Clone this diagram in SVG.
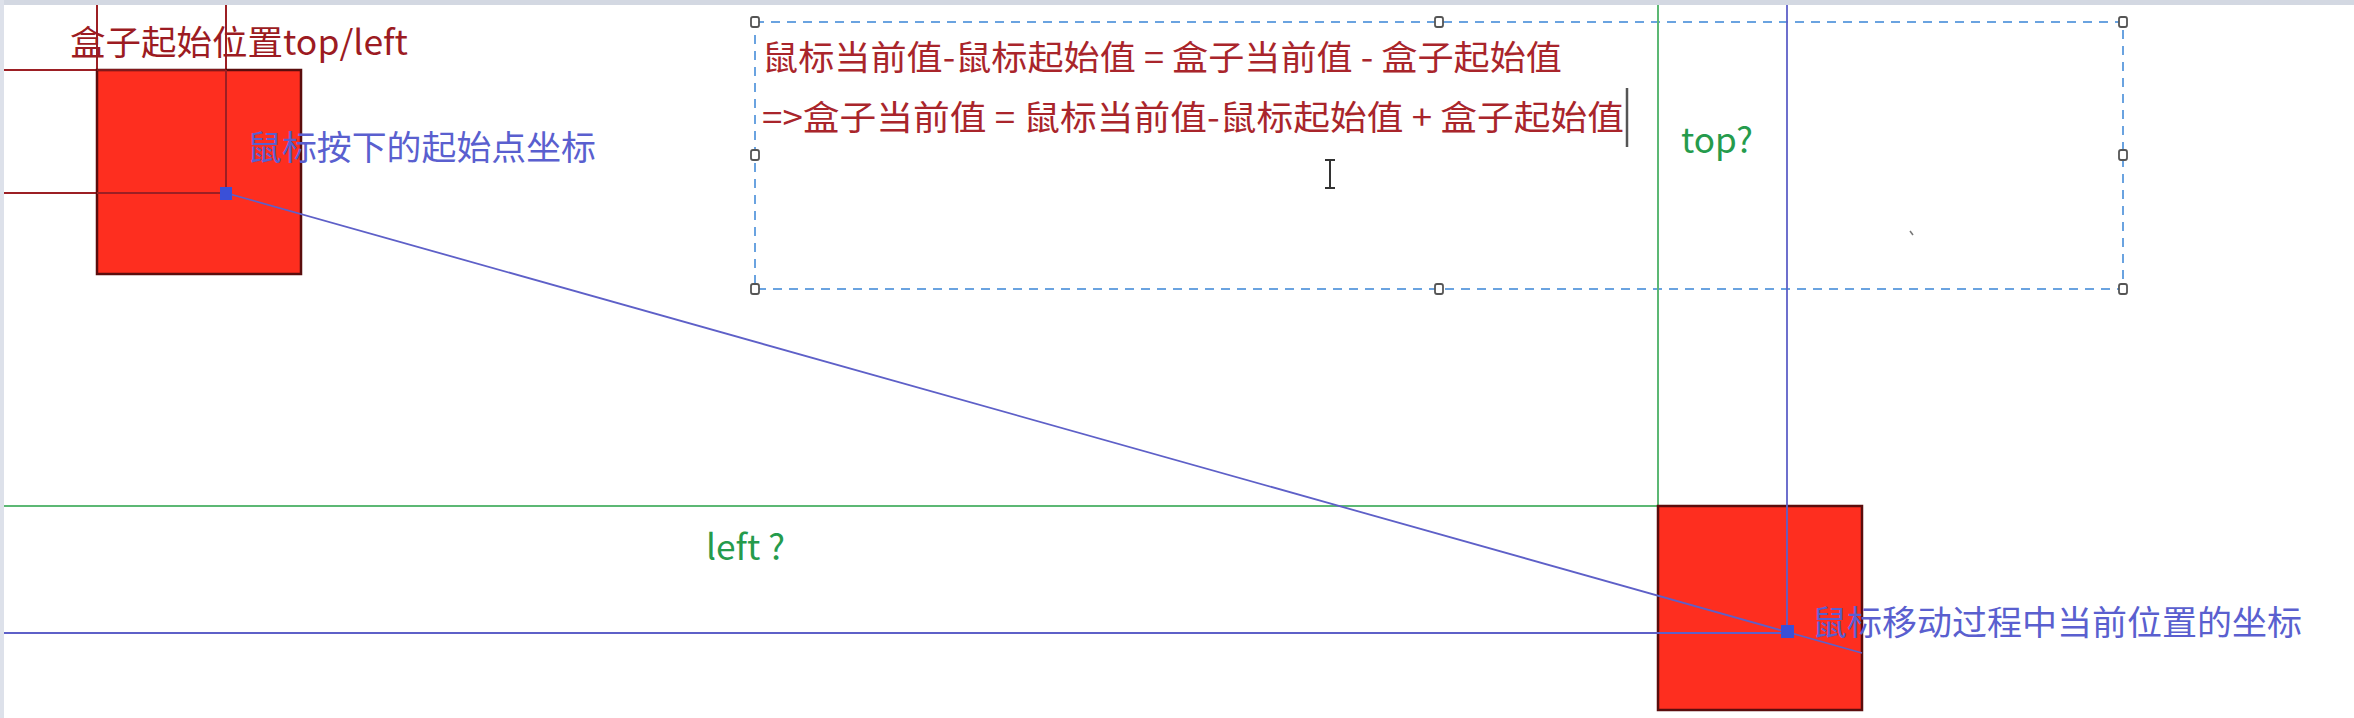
<svg xmlns="http://www.w3.org/2000/svg" width="2354" height="718" viewBox="0 0 2354 718">
<style>
.box{fill:#fe2e1f;stroke:#5a0d0d;stroke-width:2.5}
.red{stroke:#9c1f24;stroke-width:2;fill:none}
.blue{stroke:#5e60c8;stroke-width:1.8;fill:none}
.green{stroke:#5cb874;stroke-width:2;fill:none}
.pt{fill:#3a50d8}
.t{font-family:"Noto Sans CJK SC","Liberation Sans",sans-serif}
.lblred{fill:#9c1b22;font-size:34px}
.lblblue{fill:#5a5fcf;font-size:34px}
.eq{fill:#a9252b;font-size:34px}
.gr{fill:#259b4c;font-size:35px}
.sel{fill:none;stroke:#6aa3e0;stroke-width:2;stroke-dasharray:9 7}
.h{fill:#fff;stroke:#555;stroke-width:1.8}
</style>
<rect width="2354" height="718" fill="#ffffff"/>
<rect x="0" y="0" width="2354" height="5" fill="#d3d8e2"/>
<rect x="0" y="0" width="4" height="718" fill="#dde1ea"/>

<g id="formula-box">
  <rect class="sel" x="755" y="22" width="1368" height="267"/>
  <rect class="h" x="751" y="17" width="8" height="10" rx="2"/>
  <rect class="h" x="1435" y="17" width="8" height="10" rx="2"/>
  <rect class="h" x="2119" y="17" width="8" height="10" rx="2"/>
  <rect class="h" x="751" y="150" width="8" height="10" rx="2"/>
  <rect class="h" x="2119" y="150" width="8" height="10" rx="2"/>
  <rect class="h" x="751" y="284" width="8" height="10" rx="2"/>
  <rect class="h" x="1435" y="284" width="8" height="10" rx="2"/>
  <rect class="h" x="2119" y="284" width="8" height="10" rx="2"/>
  <text class="t eq" x="762" y="70" textLength="800" lengthAdjust="spacingAndGlyphs">鼠标当前值-鼠标起始值 = 盒子当前值 - 盒子起始值</text>
  <text class="t eq" x="762" y="130" textLength="862" lengthAdjust="spacingAndGlyphs">=&gt;盒子当前值 = 鼠标当前值-鼠标起始值 + 盒子起始值</text>
  <line x1="1627" y1="88" x2="1627" y2="147" stroke="#555" stroke-width="2.5"/>
  <path d="M1325 160h10M1330 160v28M1325 188h10" stroke="#333" stroke-width="2" fill="none"/>
  <line x1="1910" y1="231" x2="1913" y2="235" stroke="#777" stroke-width="1.5"/>
</g>

<g id="connectors">
  <line class="red" x1="4" y1="70" x2="97" y2="70"/>
  <line class="red" x1="97" y1="5" x2="97" y2="70"/>
  <line class="red" x1="226" y1="5" x2="226" y2="193"/>
  <line class="red" x1="4" y1="193" x2="226" y2="193"/>
  <line class="green" x1="4" y1="506" x2="1658" y2="506"/>
  <line class="green" x1="1658" y1="5" x2="1658" y2="506"/>
</g>

<g id="box-start">
  <rect class="box" x="97" y="70" width="204" height="204"/>
</g>
<g id="box-current">
  <rect class="box" x="1658" y="506" width="204" height="204"/>
</g>

<g id="guides">
  <line class="red" x1="97" y1="70" x2="226" y2="70" stroke-opacity="0.6"/>
  <line class="red" x1="226" y1="70" x2="226" y2="193"/>
  <line class="red" x1="97" y1="193" x2="226" y2="193"/>
  <line class="blue" x1="226" y1="193" x2="1862" y2="653"/>
  <line class="blue" x1="1787" y1="5" x2="1787" y2="633"/>
  <line class="blue" x1="4" y1="633" x2="1787" y2="633"/>
</g>

<g id="point-start">
  <rect class="pt" x="220" y="187" width="12" height="13"/>
</g>
<g id="point-current">
  <rect class="pt" x="1781" y="625" width="13" height="13"/>
</g>

<g id="labels">
  <text class="t lblred" x="70" y="55" textLength="338" lengthAdjust="spacingAndGlyphs">盒子起始位置top/left</text>
  <text class="t lblblue" x="247" y="160" textLength="349" lengthAdjust="spacingAndGlyphs">鼠标按下的起始点坐标</text>
  <text class="t lblblue" x="1812" y="635" textLength="490" lengthAdjust="spacingAndGlyphs">鼠标移动过程中当前位置的坐标</text>
  <text class="t gr" x="1681" y="153" textLength="72" lengthAdjust="spacingAndGlyphs">top?</text>
  <text class="t gr" x="706" y="560" textLength="79" lengthAdjust="spacingAndGlyphs">left ?</text>
</g>
</svg>
